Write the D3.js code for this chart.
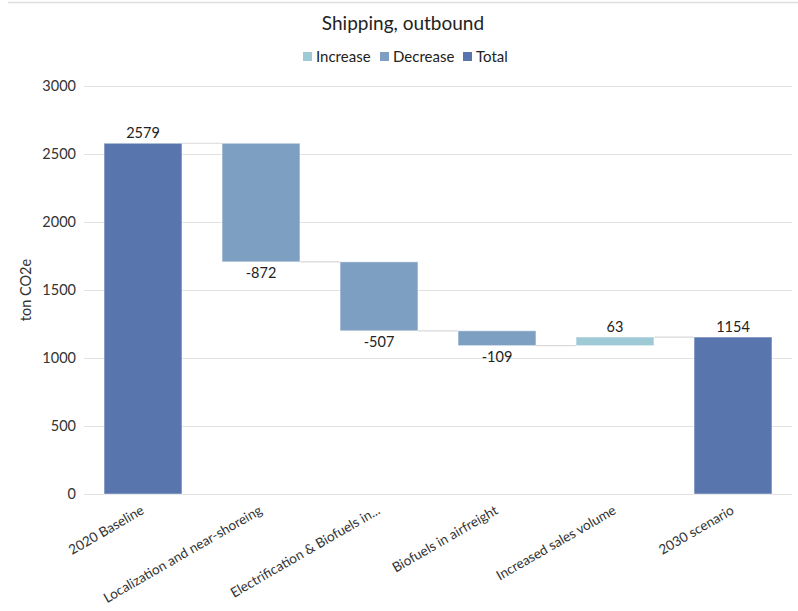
<!DOCTYPE html>
<html>
<head>
<meta charset="utf-8">
<script src="https://cdn.jsdelivr.net/npm/d3@7"></script>
<style>
  html, body { margin: 0; padding: 0; background: #fff; }
  svg { display: block; font-family: Lato, "Open Sans", sans-serif; }
  svg text { font-family: Lato, "Open Sans", sans-serif; }
</style>
</head>
<body>
<svg id="chart" width="798" height="611"></svg>
<script>
const categories = ["2020 Baseline", "Localization and near-shoreing", "Electrification & Biofuels in...", "Biofuels in airfreight", "Increased sales volume", "2030 scenario"];
const values = [2579, -872, -507, -109, 63, 1154];
const types = ["total", "decrease", "decrease", "decrease", "increase", "total"];
const yTicks = [0, 500, 1000, 1500, 2000, 2500, 3000];
const legendItems = ["Increase", "Decrease", "Total"];
const chartTitle = "Shipping, outbound";
const yTitle = "ton CO2e";

const colors = { increase: "#9ECAD6", decrease: "#7DA0C2", total: "#5876AD" };
const legendColors = [colors.increase, colors.decrease, colors.total];
const FONT = "Lato, 'Open Sans', sans-serif";

// compute waterfall
let running = 0;
const data = categories.map((c, i) => {
  let start, end;
  if (types[i] === "total") { start = 0; end = values[i]; running = values[i]; }
  else { start = running; end = running + values[i]; running = end; }
  return { cat: c, value: values[i], type: types[i], start, end, lo: Math.min(start, end), hi: Math.max(start, end), level: running };
});

const svg = d3.select("#chart");
const pLeft = 84, pRight = 792, pTop = 86, pBottom = 494;

const x = d3.scaleBand().domain(categories).range([pLeft, pRight]).paddingInner(0.34).paddingOuter(0.17);
const y = d3.scaleLinear().domain([0, 3000]).range([pBottom, pTop]);

// top border line
svg.append("line").attr("x1", 8).attr("x2", 798).attr("y1", 2.5).attr("y2", 2.5)
  .attr("stroke", "#dedede").attr("stroke-width", 1.5);

// gridlines
svg.append("g").selectAll("line").data(yTicks).join("line")
  .attr("x1", pLeft).attr("x2", pRight)
  .attr("y1", d => Math.round(y(d)) + 0.5).attr("y2", d => Math.round(y(d)) + 0.5)
  .attr("stroke", "#e2e2e2").attr("stroke-width", 1);

// y axis labels
const yAxis = d3.axisLeft(y).tickValues(yTicks).tickFormat(d3.format("d")).tickSize(0).tickPadding(8);
const gy = svg.append("g").attr("transform", `translate(${pLeft},0)`).call(yAxis)
  .attr("font-family", FONT);
gy.select(".domain").remove();
gy.selectAll("text").attr("font-size", 14.5).attr("fill", "#333");

// y title
svg.append("text").attr("transform", `translate(31,${(pTop + pBottom) / 2}) rotate(-90)`)
  .attr("text-anchor", "middle").attr("font-size", 14.5).attr("fill", "#333").text(yTitle);

// connectors
const conn = data.slice(0, -1).map((d, i) => ({ x1: x(d.cat) + x.bandwidth(), x2: x(categories[i + 1]), v: d.level }));
svg.append("g").selectAll("line").data(conn).join("line")
  .attr("x1", d => d.x1).attr("x2", d => d.x2)
  .attr("y1", d => y(d.v)).attr("y2", d => y(d.v))
  .attr("stroke", "#d9d9d9").attr("stroke-width", 1.2);

// bars
svg.append("g").selectAll("rect").data(data).join("rect")
  .attr("x", d => x(d.cat)).attr("width", x.bandwidth())
  .attr("y", d => y(d.hi)).attr("height", d => y(d.lo) - y(d.hi))
  .attr("fill", d => colors[d.type])
  .attr("stroke", "#ffffff").attr("stroke-opacity", 0.45).attr("stroke-width", 1);

// value labels
svg.append("g").selectAll("text").data(data).join("text")
  .attr("x", d => x(d.cat) + x.bandwidth() / 2)
  .attr("y", d => d.type === "decrease" ? y(d.lo) + 16 : y(d.hi) - 5)
  .attr("text-anchor", "middle").attr("font-size", 14.5).attr("fill", "#222")
  .text(d => d.value);

// x axis labels
const xAxis = d3.axisBottom(x).tickSize(0).tickPadding(0);
const gx = svg.append("g").attr("transform", `translate(0,${pBottom})`).call(xAxis)
  .attr("font-family", FONT);
gx.select(".domain").remove();
gx.selectAll("text")
  .attr("font-size", 13.5).attr("fill", "#333")
  .attr("text-anchor", "end")
  .attr("dy", null)
  .attr("y", 0)
  .attr("transform", "translate(2,19) rotate(-30)");

// title
svg.append("text").attr("x", 403).attr("y", 30).attr("text-anchor", "middle")
  .attr("font-size", 19).attr("fill", "#222").text(chartTitle);

// legend
const lg = svg.append("g");
const legendX = [303, 380, 463];
legendItems.forEach((t, i) => {
  lg.append("rect").attr("x", legendX[i]).attr("y", 52).attr("width", 9).attr("height", 9).attr("fill", legendColors[i]);
  lg.append("text").attr("x", legendX[i] + 13).attr("y", 61.5).attr("font-size", 15).attr("fill", "#222").text(t);
});
</script>
</body>
</html>
